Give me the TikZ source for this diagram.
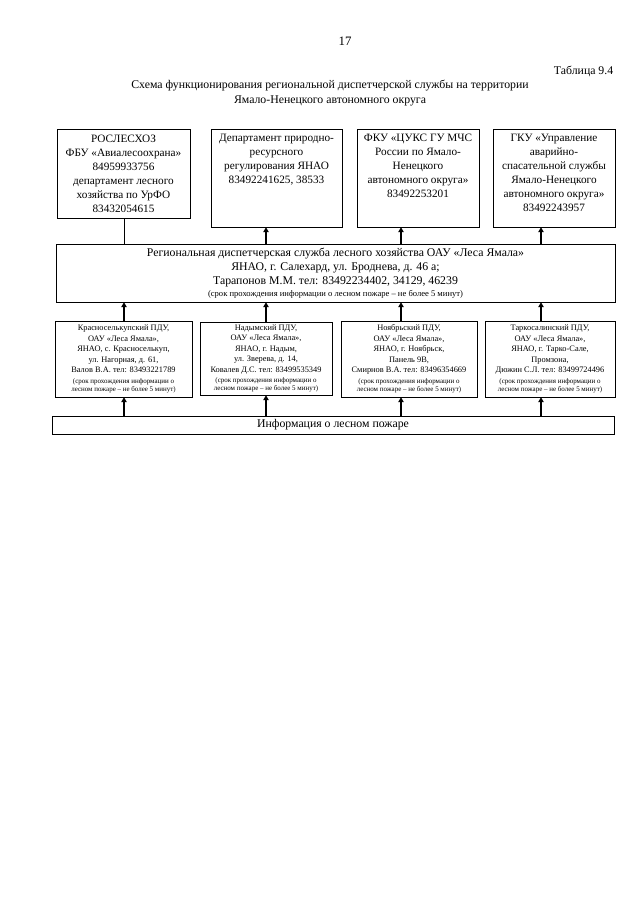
\documentclass[tikz,border=0pt]{standalone}
\usepackage{fontspec}
\setmainfont{Liberation Serif}
\usepackage{tikz}
\usetikzlibrary{arrows.meta,positioning}
\def\px{0.0328125cm}
\newcommand{\srok}[1]{{\fontsize{6.5}{7.6}\selectfont #1}}

\begin{document}
\begin{tikzpicture}[x=\px,y=-\px,
  box/.style={draw,line width=0.6pt,align=center,inner sep=1pt},
  topbox/.style={box,font=\fontsize{10.5}{13}\selectfont},
  lowbox/.style={box,font=\fontsize{7.8}{9.8}\selectfont},
  txt/.style={align=center,inner sep=1pt,font=\fontsize{10.5}{13}\selectfont},
  feed/.style={line width=1.8pt,-{Triangle[length=4.5pt,width=5pt]}}]
\useasboundingbox (0,0) rectangle (640,905);

\node[font=\fontsize{12}{14}\selectfont] (pnum) at (345,41) {17};
\node[anchor=east,font=\fontsize{11}{13}\selectfont] (tabl) at (617,71) {Таблица 9.4};
\node[align=center,font=\fontsize{11}{13.8}\selectfont] (title) at (330,93)
  {Схема функционирования региональной диспетчерской службы на территории\\
   Ямало-Ненецкого автономного округа};

\coordinate (k1) at (124,0);
\coordinate (k2) at (266,0);
\coordinate (k3) at (401,0);
\coordinate (k4) at (541,0);

\node[topbox,minimum width=133*\px,minimum height=89*\px] (b1) at (123.5,174)
  {РОСЛЕСХОЗ\\ФБУ «Авиалесоохрана»\\84959933756\\департамент лесного\\хозяйства по УрФО\\83432054615};
\node[box,minimum width=131*\px,minimum height=98*\px] (b2) at (276.5,178) {};
\node[txt,anchor=north] (b2t) at ([yshift=-4pt]b2.north)
  {Департамент природно-\\ресурсного\\регулирования ЯНАО\\83492241625, 38533};
\node[box,minimum width=122*\px,minimum height=98*\px] (b3) at (418,178) {};
\node[txt,anchor=north] (b3t) at ([yshift=-4pt]b3.north)
  {ФКУ «ЦУКС ГУ МЧС\\России по Ямало-\\Ненецкого\\автономного округа»\\83492253201};
\node[box,minimum width=122*\px,minimum height=98*\px] (b4) at (554,178) {};
\node[txt,anchor=north] (b4t) at ([yshift=-4pt]b4.north)
  {ГКУ «Управление\\аварийно-\\спасательной службы\\Ямало-Ненецкого\\автономного округа»\\83492243957};

\node[box,font=\fontsize{11}{13}\selectfont,minimum width=559*\px,minimum height=58*\px] (mid) at (335.5,273)
  {Региональная диспетчерская служба лесного хозяйства ОАУ «Леса Ямала»\\
   ЯНАО, г. Салехард, ул. Броднева, д. 46 а;\\
   Тарапонов М.М. тел: 83492234402, 34129, 46239\\[-2pt]
   {\fontsize{8}{9}\selectfont (срок прохождения информации о лесном пожаре – не более 5 минут)}};

\node[lowbox,minimum width=137*\px,minimum height=76*\px] (pA) at (123.5,359)
  {Красноселькупский ПДУ,\\ОАУ «Леса Ямала»,\\ЯНАО, с. Красноселькуп,\\ул. Нагорная, д. 61,\\Валов В.А. тел: 83493221789\\
   \srok{(срок прохождения информации о}\\[-2.2pt]\srok{лесном пожаре – не более 5 минут)}};
\node[lowbox,minimum width=132*\px,minimum height=73*\px] (pB) at (266,358.5)
  {Надымский ПДУ,\\ОАУ «Леса Ямала»,\\ЯНАО, г. Надым,\\ул. Зверева, д. 14,\\Ковалев Д.С. тел: 83499535349\\
   \srok{(срок прохождения информации о}\\[-2.2pt]\srok{лесном пожаре – не более 5 минут)}};
\node[lowbox,minimum width=136*\px,minimum height=76*\px] (pC) at (409,359)
  {Ноябрьский ПДУ,\\ОАУ «Леса Ямала»,\\ЯНАО, г. Ноябрьск,\\Панель 9В,\\Смирнов В.А. тел: 83496354669\\
   \srok{(срок прохождения информации о}\\[-2.2pt]\srok{лесном пожаре – не более 5 минут)}};
\node[lowbox,minimum width=130*\px,minimum height=76*\px] (pD) at (550,359)
  {Таркосалинский ПДУ,\\ОАУ «Леса Ямала»,\\ЯНАО, г. Тарко-Сале,\\Промзона,\\Дюжин С.Л. тел: 83499724496\\
   \srok{(срок прохождения информации о}\\[-2.2pt]\srok{лесном пожаре – не более 5 минут)}};

\node[box,font=\fontsize{11}{13}\selectfont,minimum width=562*\px,minimum height=18*\px] (info) at (333,425)
  {Информация о лесном пожаре};

\draw[line width=0.8pt] (b1.south -| k1) -- (mid.north -| k1);
\draw[feed] (mid.north -| k2) -- (b2.south -| k2);
\draw[feed] (mid.north -| k3) -- (b3.south -| k3);
\draw[feed] (mid.north -| k4) -- (b4.south -| k4);

\draw[feed] (pA.north -| k1) -- (mid.south -| k1);
\draw[feed] (pB.north -| k2) -- (mid.south -| k2);
\draw[feed] (pC.north -| k3) -- (mid.south -| k3);
\draw[feed] (pD.north -| k4) -- (mid.south -| k4);

\draw[feed] (info.north -| k1) -- (pA.south -| k1);
\draw[feed] (info.north -| k2) -- (pB.south -| k2);
\draw[feed] (info.north -| k3) -- (pC.south -| k3);
\draw[feed] (info.north -| k4) -- (pD.south -| k4);
\end{tikzpicture}
\end{document}
